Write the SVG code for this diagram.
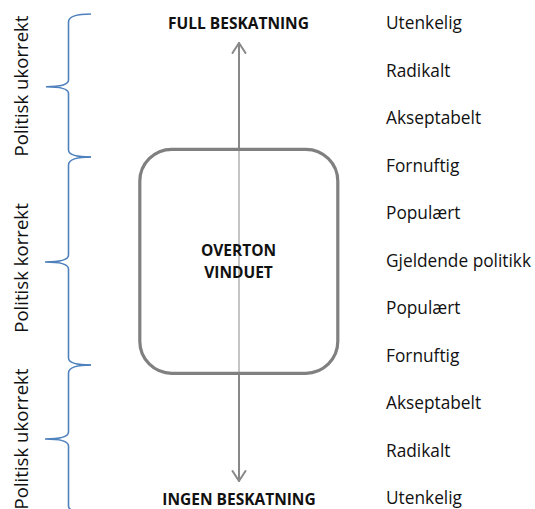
<svg xmlns="http://www.w3.org/2000/svg" width="535" height="509" viewBox="0 0 535 509">
<style>
.lbl{font-family:"Open Sans","Liberation Sans",sans-serif;font-size:17.3px;fill:#111}
.side{font-family:"Open Sans","Liberation Sans",sans-serif;font-size:18.6px;fill:#111}
.bold{font-family:"Open Sans","Liberation Sans",sans-serif;font-size:15.5px;font-weight:700;fill:#111}
.brace{fill:none;stroke:#4f81bd;stroke-width:1.6}
.arr{fill:none;stroke:#888;stroke-width:2;stroke-linecap:round;stroke-linejoin:round}
</style>
<rect width="535" height="509" fill="#fff"/>
<g id="connectors">
<path class="arr" d="M239,43 V481"/>
<path class="arr" d="M232.5,53 L239,43 L245.5,53"/>
<path class="arr" d="M232.5,471 L239,481 L245.5,471"/>
</g>
<g id="window">
<rect x="139.8" y="149.3" width="198" height="224" rx="32" ry="32" fill="#fff" fill-opacity="0.5" stroke="#808080" stroke-width="3.2"/>
<text class="bold" x="238.5" y="255.7" text-anchor="middle">OVERTON</text>
<text class="bold" x="238.5" y="278.3" text-anchor="middle">VINDUET</text>
</g>
<g id="top-label"><text class="bold" x="238.5" y="29.3" text-anchor="middle">FULL BESKATNING</text></g>
<g id="bottom-label"><text class="bold" x="239" y="505" text-anchor="middle">INGEN BESKATNING</text></g>
<g id="scale">
<text class="lbl" x="386" y="29">Utenkelig</text>
<text class="lbl" x="386" y="76.5">Radikalt</text>
<text class="lbl" x="386" y="124">Akseptabelt</text>
<text class="lbl" x="386" y="171.5">Fornuftig</text>
<text class="lbl" x="386" y="219">Populært</text>
<text class="lbl" x="386" y="266.5">Gjeldende politikk</text>
<text class="lbl" x="386" y="314">Populært</text>
<text class="lbl" x="386" y="361.5">Fornuftig</text>
<text class="lbl" x="386" y="409">Akseptabelt</text>
<text class="lbl" x="386" y="456.5">Radikalt</text>
<text class="lbl" x="386" y="504">Utenkelig</text>
</g>
<g id="brace-top">
<path class="brace" d="M91,14 C78,14 68.5,16 68.5,22 L68.5,80 C68.5,85 60,86.7 46,86.7 C60,86.7 68.5,88.5 68.5,93.5 L68.5,150 C68.5,155 78,157 91,157"/>
<text class="side" transform="translate(28,86) rotate(-90)" text-anchor="middle">Politisk ukorrekt</text>
</g>
<g id="brace-middle">
<path class="brace" d="M91,157 C78,157 68.5,159 68.5,165 L68.5,255 C68.5,260 60,262 45,262 C60,262 68.5,264 68.5,269 L68.5,358 C68.5,363 78,365 91,365"/>
<text class="side" transform="translate(28,268) rotate(-90)" text-anchor="middle">Politisk korrekt</text>
</g>
<g id="brace-bottom">
<path class="brace" d="M91,365 C78,365 68.5,367 68.5,373 L68.5,432 C68.5,437 60,439 45,439 C60,439 68.5,441 68.5,446 L68.5,506 C68.5,511 78,513 91,513"/>
<text class="side" transform="translate(28,439) rotate(-90)" text-anchor="middle">Politisk ukorrekt</text>
</g>
</svg>
